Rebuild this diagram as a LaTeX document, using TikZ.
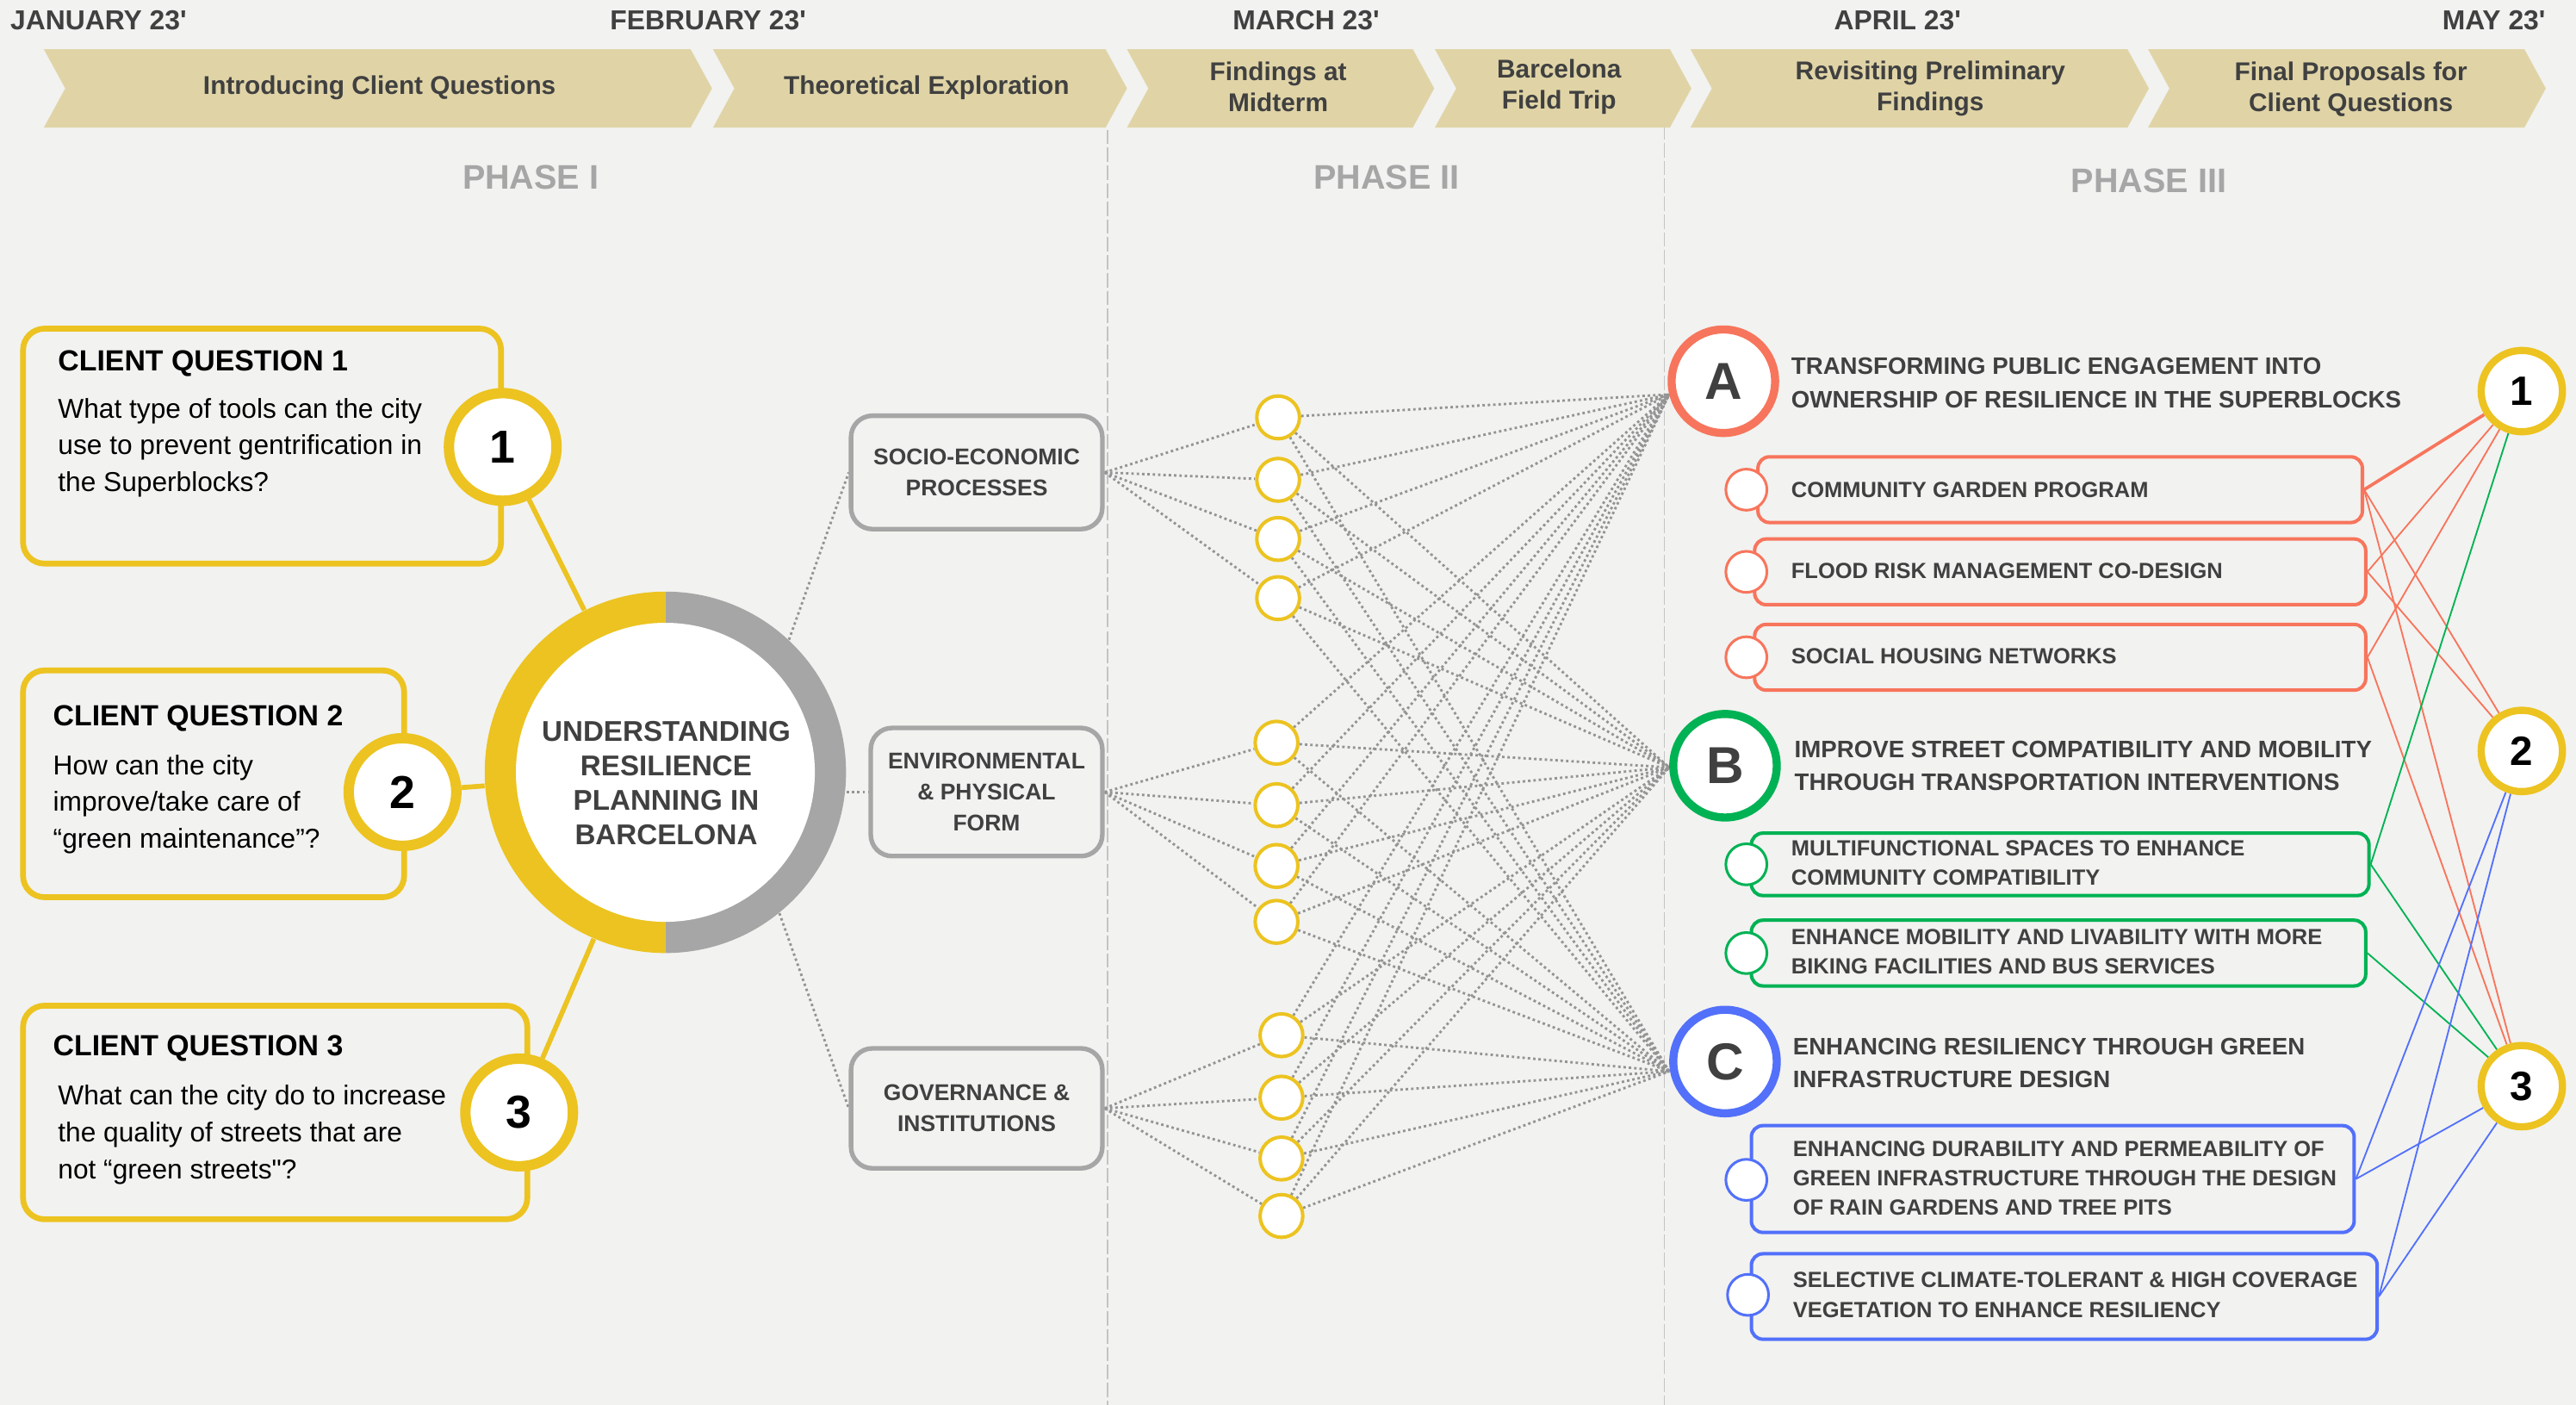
\documentclass[tikz,border=0pt]{standalone}
\usepackage{fontspec}
\setmainfont{Liberation Sans}[Ligatures=TeXOff]
\pgfdeclarelayer{bg}
\pgfdeclarelayer{wires}
\pgfsetlayers{bg,wires,main}

\definecolor{paper}{RGB}{242,242,240}
\definecolor{sand}{RGB}{224,212,167}
\definecolor{gold}{RGB}{236,195,32}
\definecolor{ash}{RGB}{166,166,166}
\definecolor{ink}{RGB}{64,64,64}
\definecolor{coral}{RGB}{247,117,92}
\definecolor{leaf}{RGB}{0,178,84}
\definecolor{azure}{RGB}{82,112,250}
\definecolor{dotgray}{RGB}{148,148,148}
\definecolor{rulegray}{RGB}{196,196,196}

\newcommand\fsz[2]{\fontsize{#1}{#2}\selectfont}

\begin{document}
\begin{tikzpicture}[x=0.02cm, y=-0.02cm,
  month/.style={font=\bfseries\fsz{9.5}{11}, text=ink, inner sep=0},
  bannertext/.style={font=\bfseries\fsz{8.9}{10.8}, text=ink, align=center, inner sep=0},
  phase/.style={font=\bfseries\fsz{11.8}{14}, text=ash, inner sep=0},
  phaserule/.style={draw=rulegray, line width=0.5pt, dash pattern=on 5pt off 1.2pt},
  cqbox/.style={draw=gold, line width=2pt, rounded corners=0.26cm},
  cqtitle/.style={font=\bfseries\fsz{10.1}{12}, anchor=west, inner sep=0},
  cqbody/.style={font=\fsz{9.45}{12.8}, anchor=west, align=left, inner sep=0},
  qnum/.style={circle, draw=gold, line width=3.6pt, fill=white, minimum size=1.31cm, inner sep=0, font=\bfseries\fsz{16}{16}},
  goldline/.style={draw=gold, line width=1.7pt},
  catbox/.style={draw=ash, line width=1.6pt, rounded corners=0.26cm, fill=paper, font=\bfseries\fsz{7.9}{10.8}, text=ink, align=center, inner sep=0},
  hub/.style={circle, draw=gold, line width=1.2pt, fill=white, minimum size=0.52cm, inner sep=0},
  dotline/.style={draw=dotgray, line width=0.85pt, dash pattern=on 0.85pt off 1pt},
  goal/.style={circle, line width=2.8pt, fill=white, minimum size=1.26cm, inner sep=0, font=\bfseries\fsz{18}{18}, text=ink},
  heading/.style={font=\bfseries\fsz{8.25}{11.4}, text=ink, anchor=west, align=left, inner sep=0},
  subbox/.style={line width=1.2pt, rounded corners=0.14cm, fill=paper, minimum height=0.8cm},
  subdot/.style={circle, line width=0.9pt, fill=white, minimum size=0.5cm, inner sep=0},
  subtext/.style={font=\bfseries\fsz{7.6}{10.2}, text=ink, anchor=west, align=left, inner sep=0},
  rnum/.style={circle, draw=gold, line width=2.5pt, fill=white, minimum size=0.99cm, inner sep=0, font=\bfseries\fsz{14.2}{14.2}},
  link/.style={line width=0.55pt},
]
\useasboundingbox (0,0) rectangle (1568,855);
\begin{pgfonlayer}{bg}
  \fill[paper] (0,0) rectangle (1568,855);
  % phase separators
  \draw[phaserule] (674,79) -- (674,855);
  \draw[phaserule] (1013,76) -- (1013,855);
\end{pgfonlayer}

% ---------- timeline ----------
\node[month] (m1) at (60,12.5) {JANUARY 23'};
\node[month] (m2) at (431,12.5) {FEBRUARY 23'};
\node[month] (m3) at (795,12.5) {MARCH 23'};
\node[month] (m4) at (1155,12.5) {APRIL 23'};
\node[month] (m5) at (1518,12.5) {MAY 23'};

\foreach \l/\r in {26.7/420.4, 434/673, 686/860, 873.4/1016.5, 1029/1295, 1307.5/1536.6}
  \fill[sand] (\l,30) -- (\r,30) -- ({\r+13},53.8) -- (\r,77.6) -- (\l,77.6) -- ({\l+13},53.8) -- cycle;

\node[bannertext] (b1) at (231,53.5) {Introducing Client Questions};
\node[bannertext] (b2) at (564,53.5) {Theoretical Exploration};
\node[bannertext] (b3) at (778,53) {Findings at\\Midterm};
\node[bannertext] (b4) at (949,53) {Barcelona\\Field Trip};
\node[bannertext] (b5) at (1175,54) {Revisiting Preliminary\\Findings};
\node[bannertext] (b6) at (1431,54.5) {Final Proposals for\\Client Questions};

\node[phase] (p1) at (323,108) {PHASE I};
\node[phase] (p2) at (844,108) {PHASE II};
\node[phase] (p3) at (1308,110) {PHASE III};

% ---------- client questions ----------
\node[cqbox, minimum width=5.82cm, minimum height=2.86cm] (cq1) at (159.5,271.5) {};
\node[cqbox, minimum width=4.64cm, minimum height=2.76cm] (cq2) at (130,477) {};
\node[cqbox, minimum width=6.14cm, minimum height=2.6cm] (cq3) at (167.5,677) {};

\node[cqtitle] (cq1t) at (35,221) {CLIENT QUESTION 1};
\node[cqbody] (cq1b) at (35,272.5) {What type of tools can the city\\use to prevent gentrification in\\the Superblocks?};
\node[cqtitle] (cq2t) at (32,437) {CLIENT QUESTION 2};
\node[cqbody] (cq2b) at (32,489.5) {How can the city\\improve/take care of\\“green maintenance”?};
\node[cqtitle] (cq3t) at (32,638) {CLIENT QUESTION 3};
\node[cqbody] (cq3b) at (35,690.5) {What can the city do to increase\\the quality of streets that are\\not “green streets"?};

\node[qnum] (q1) at (306,272) {1};
\node[qnum] (q2) at (245,482) {2};
\node[qnum] (q3) at (316,677) {3};

% ---------- central topic ----------
\node[circle, minimum size=4.4cm, inner sep=0] (cc) at (405,470) {};
\begin{scope}
  \clip (cc.west |- cc.north) rectangle (cc.south);
  \fill[gold] (cc.center) circle[radius=2.2cm];
\end{scope}
\begin{scope}
  \clip (cc.north) rectangle (cc.east |- cc.south);
  \fill[ash] (cc.center) circle[radius=2.2cm];
\end{scope}
\fill[white] (cc.center) circle[radius=1.82cm];
\node[font=\bfseries\fsz{9.9}{11.95}, text=ink, align=center, inner sep=0] (cct) at (405.5,476.5)
  {UNDERSTANDING\\RESILIENCE\\PLANNING IN\\BARCELONA};

% ---------- themes ----------
\node[catbox, minimum width=3.06cm, minimum height=1.38cm] (se) at (594.5,287.5) {SOCIO-ECONOMIC\\PROCESSES};
\node[catbox, minimum width=2.82cm, minimum height=1.56cm] (env) at (600.5,482) {ENVIRONMENTAL\\\& PHYSICAL\\FORM};
\node[catbox, minimum width=3.06cm, minimum height=1.46cm] (gov) at (594.5,674.5) {GOVERNANCE \&\\INSTITUTIONS};

\foreach \i/\px/\py in {1/778/254, 2/778/292, 3/778/328, 4/778/364,
                        5/777/452, 6/777/490, 7/777/527, 8/777/561,
                        9/780/630, 10/780/668, 11/780/705, 12/780/740}
  \node[hub] (h\i) at (\px,\py) {};

% ---------- goals ----------
\node[goal, draw=coral] (ga) at (1049,232) {A};
\node[goal, draw=leaf] (gb) at (1050,466) {B};
\node[goal, draw=azure] (gc) at (1050,646) {C};
\coordinate (ain) at (1016,240);
\coordinate (bin) at (1016,467);
\coordinate (cin) at (1016,652);

\node[heading] (gat) at (1090,233) {TRANSFORMING PUBLIC ENGAGEMENT INTO\\OWNERSHIP OF RESILIENCE IN THE SUPERBLOCKS};
\node[heading] (gbt) at (1092,466) {IMPROVE STREET COMPATIBILITY AND MOBILITY\\THROUGH TRANSPORTATION INTERVENTIONS};
\node[heading] (gct) at (1091,647) {ENHANCING RESILIENCY THROUGH GREEN\\INFRASTRUCTURE DESIGN};

\node[subbox, draw=coral, minimum width=7.36cm] (a1) at (1254,298) {};
\node[subbox, draw=coral, minimum width=7.44cm] (a2) at (1254,348) {};
\node[subbox, draw=coral, minimum width=7.44cm] (a3) at (1254,400) {};
\node[subbox, draw=leaf, minimum width=7.52cm, minimum height=0.76cm] (b1x) at (1254,526) {};
\node[subbox, draw=leaf, minimum width=7.48cm] (b2x) at (1253,580) {};
\node[subbox, draw=azure, minimum width=7.34cm, minimum height=1.3cm] (c1) at (1249.5,717.5) {};
\node[subbox, draw=azure, minimum width=7.62cm, minimum height=1.04cm] (c2) at (1256.5,789) {};

\node[subdot, draw=coral] (a1d) at (1063,298) {};
\node[subdot, draw=coral] (a2d) at (1063,348) {};
\node[subdot, draw=coral] (a3d) at (1063,400) {};
\node[subdot, draw=leaf] (b1d) at (1063,526) {};
\node[subdot, draw=leaf] (b2d) at (1063,580) {};
\node[subdot, draw=azure] (c1d) at (1063,718) {};
\node[subdot, draw=azure] (c2d) at (1064,788) {};

\node[subtext] (a1t) at (1090,298) {COMMUNITY GARDEN PROGRAM};
\node[subtext] (a2t) at (1090,347.5) {FLOOD RISK MANAGEMENT CO-DESIGN};
\node[subtext] (a3t) at (1090,399.5) {SOCIAL HOUSING NETWORKS};
\node[subtext] (b1t) at (1090,525) {MULTIFUNCTIONAL SPACES TO ENHANCE\\COMMUNITY COMPATIBILITY};
\node[subtext] (b2t) at (1090,579) {ENHANCE MOBILITY AND LIVABILITY WITH MORE\\BIKING FACILITIES AND BUS SERVICES};
\node[subtext] (c1t) at (1091,717) {ENHANCING DURABILITY AND PERMEABILITY OF\\GREEN INFRASTRUCTURE THROUGH THE DESIGN\\OF RAIN GARDENS AND TREE PITS};
\node[subtext] (c2t) at (1091,788) {SELECTIVE CLIMATE-TOLERANT \& HIGH COVERAGE\\VEGETATION TO ENHANCE RESILIENCY};

\node[rnum] (n1) at (1535,238) {1};
\node[rnum] (n2) at (1535,457) {2};
\node[rnum] (n3) at (1535,661) {3};

% ---------- connectors ----------
\begin{pgfonlayer}{wires}
  \draw[goldline] (q1) -- (cc);
  \draw[goldline] (q2) -- (cc);
  \draw[goldline] (q3) -- (cc);

  \draw[dotline] (cc.47) -- (se.west);
  \draw[dotline] (env.west -| cc.east) -- (env.west);
  \draw[dotline] (cc.-51) -- (gov.west);

  \foreach \i in {1,...,4} \draw[dotline] (se.east) -- (h\i);
  \foreach \i in {5,...,8} \draw[dotline] (env.east) -- (h\i);
  \foreach \i in {9,...,12} \draw[dotline] (gov.east) -- (h\i);
  \foreach \i in {1,...,12}
    \foreach \t in {ain,bin,cin}
      \draw[dotline] (h\i) -- (\t);

  \draw[coral, line width=1.1pt] (a1.east) -- (n1);
  \draw[coral, link] (a1.east) -- (n2);
  \draw[coral, link] (a1.east) -- (n3);
  \draw[coral, link] (a2.east) -- (n1);
  \draw[coral, link] (a2.east) -- (n2);
  \draw[coral, link] (a3.east) -- (n1);
  \draw[coral, link] (a3.east) -- (n3);
  \draw[leaf, link] (b1x.east) -- (n1);
  \draw[leaf, link] (b1x.east) -- (n3);
  \draw[leaf, link] (b2x.east) -- (n3);
  \draw[azure, link] (c1.east) -- (n2);
  \draw[azure, link] (c1.east) -- (n3);
  \draw[azure, link] (c2.east) -- (n2);
  \draw[azure, link] (c2.east) -- (n3);
\end{pgfonlayer}
\end{tikzpicture}
\end{document}
